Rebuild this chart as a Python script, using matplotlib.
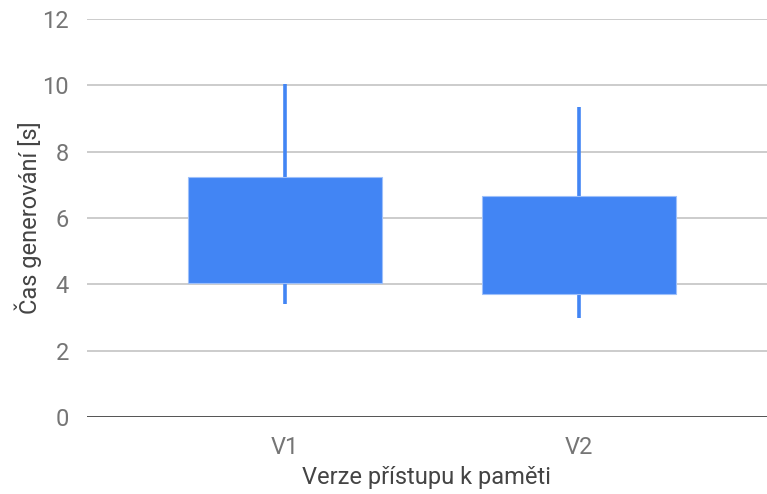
import matplotlib
matplotlib.use("Agg")
import matplotlib.pyplot as plt

plt.rcParams['font.family'] = ['Roboto', 'DejaVu Sans']

# data
categories = ['V1', 'V2']
low = [3.4, 3.0]
q1 = [4.05, 3.7]
q3 = [7.25, 6.65]
high = [10.05, 9.35]
y_ticks = [0, 2, 4, 6, 8, 10, 12]

fig = plt.figure(figsize=(7.67, 4.94), dpi=100)
ax = fig.add_axes([87 / 767, 77 / 494, 680 / 767, 398 / 494])

pos = list(range(len(categories)))
blue = '#4285F4'

# whiskers
ax.vlines(pos, low, high, color=blue, linewidth=2.6, zorder=2)
# boxes
ax.bar(pos, [b - a for a, b in zip(q1, q3)], bottom=q1, width=0.663,
       color=blue, edgecolor='#9ec0fa', linewidth=0.8, zorder=3)

ax.set_ylim(0, 12)
ax.set_xlim((87 - 285) / 294, (767 - 285) / 294)
ax.set_yticks(y_ticks)
ax.set_xticks(pos)
ax.set_xticklabels(categories)

for t in y_ticks[1:]:
    ax.axhline(t, color='#cccccc', linewidth=1.4, zorder=1)
ax.axhline(0, color='#333333', linewidth=1.9, zorder=4)

for s in ax.spines.values():
    s.set_visible(False)
ax.tick_params(axis='both', length=0, labelsize=17, colors='#757575')
ax.tick_params(axis='y', pad=13)
ax.tick_params(axis='x', pad=14)

ax.set_ylabel('Čas generování [s]', fontsize=17, color='#444444', labelpad=0)
ax.set_xlabel('Verze přístupu k paměti', fontsize=17, color='#444444', labelpad=5)

fig.savefig('out.png', dpi=100)
